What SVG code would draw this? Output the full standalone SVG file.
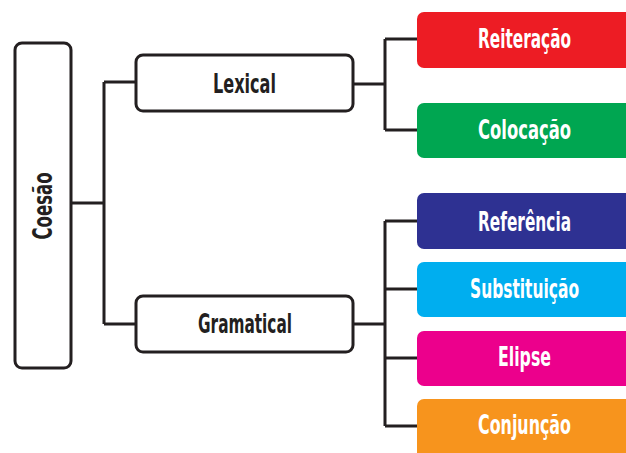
<svg xmlns="http://www.w3.org/2000/svg" width="626" height="453" viewBox="0 0 626 453">
<style>
.box{fill:#ffffff;stroke:#231f20;stroke-width:3}
.leaf{stroke:none}
.conn{fill:none;stroke:#231f20;stroke-width:3}
.t{font-family:"Liberation Sans Narrow","DejaVu Sans Condensed","Liberation Sans",sans-serif;font-weight:bold;font-size:27px;text-anchor:middle}
.dark{fill:#231f20}
.white{fill:#ffffff}
</style>
<rect width="626" height="453" fill="#ffffff"/>
<g id="connectors">
<path class="conn" d="M71,203 H104 M104,82 V324 M104,82 H136 M104,324 H136"/>
<path class="conn" d="M353,84 H385 M385,39 V130 M385,39 H417 M385,130 H417"/>
<path class="conn" d="M353,324 H385 M385,221 V426 M385,221 H417 M385,289 H417 M385,358 H417 M385,426 H417"/>
</g>
<g id="coesao">
<rect class="box" x="15" y="43" width="56" height="325" rx="7"/>
<text class="t dark" transform="translate(52,206) rotate(-90)" textLength="67" lengthAdjust="spacingAndGlyphs">Coesão</text>
</g>
<g id="lexical">
<rect class="box" x="136" y="55" width="217" height="56" rx="7"/>
<text class="t dark" x="244.5" y="93" textLength="63" lengthAdjust="spacingAndGlyphs">Lexical</text>
</g>
<g id="gramatical">
<rect class="box" x="136" y="296" width="217" height="56" rx="7"/>
<text class="t dark" x="245" y="333" textLength="94" lengthAdjust="spacingAndGlyphs">Gramatical</text>
</g>
<g id="reiteracao">
<rect class="leaf" x="417" y="12" width="220" height="56" rx="7" fill="#ed1c24"/>
<text class="t white" x="524.5" y="48" textLength="93" lengthAdjust="spacingAndGlyphs">Reiteração</text>
</g>
<g id="colocacao">
<rect class="leaf" x="417" y="103" width="220" height="55" rx="7" fill="#00a651"/>
<text class="t white" x="524.5" y="139" textLength="93" lengthAdjust="spacingAndGlyphs">Colocação</text>
</g>
<g id="referencia">
<rect class="leaf" x="417" y="193" width="220" height="56" rx="7" fill="#2e3192"/>
<text class="t white" x="524.5" y="231" textLength="93" lengthAdjust="spacingAndGlyphs">Referência</text>
</g>
<g id="substituicao">
<rect class="leaf" x="417" y="262" width="220" height="55" rx="7" fill="#00aeef"/>
<text class="t white" x="524.5" y="298" textLength="109" lengthAdjust="spacingAndGlyphs">Substituição</text>
</g>
<g id="elipse">
<rect class="leaf" x="417" y="331" width="220" height="55" rx="7" fill="#ec008c"/>
<text class="t white" x="524.5" y="366" textLength="53" lengthAdjust="spacingAndGlyphs">Elipse</text>
</g>
<g id="conjuncao">
<rect class="leaf" x="417" y="399" width="220" height="60" rx="7" fill="#f7941d"/>
<text class="t white" x="524.5" y="434" textLength="93" lengthAdjust="spacingAndGlyphs">Conjunção</text>
</g>
</svg>
